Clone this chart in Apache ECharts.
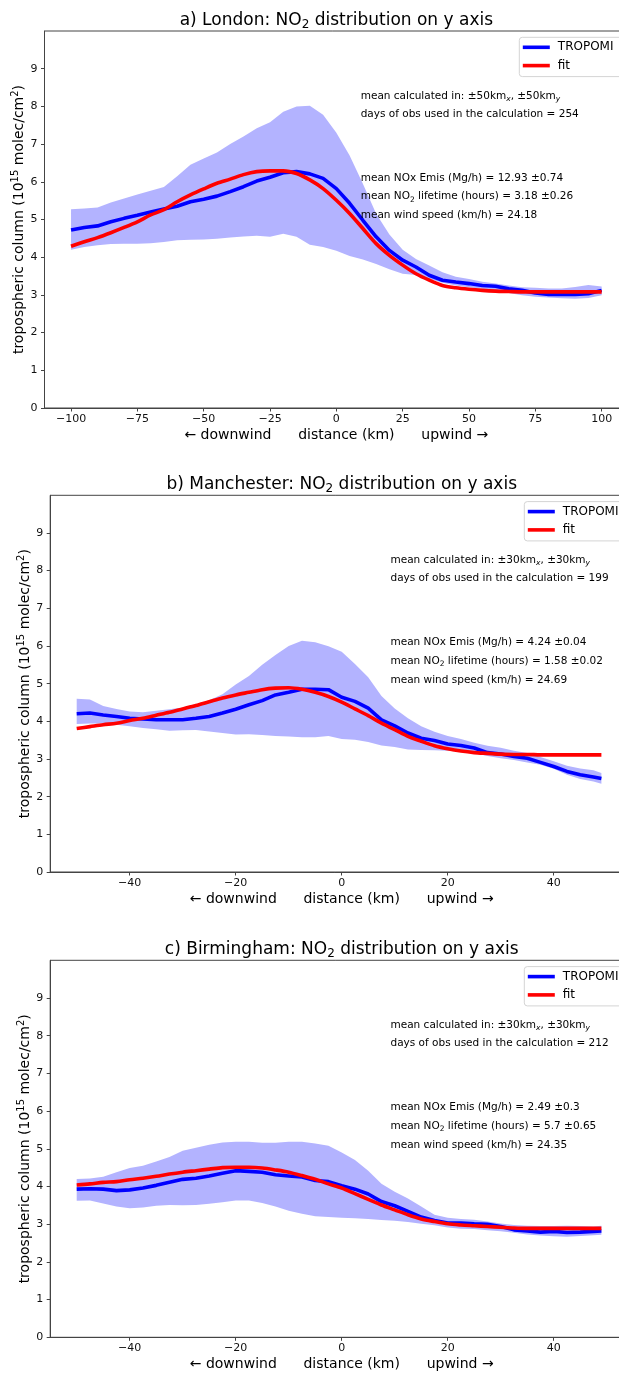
<!DOCTYPE html>
<html>
<head>
<meta charset="utf-8">
<script src="https://cdn.jsdelivr.net/npm/echarts@6/dist/echarts.min.js"></script>
<style>
  html, body { margin: 0; padding: 0; background: #fff; }
  #chart { width: 619px; height: 1373px; }
</style>
</head>
<body>
<div id="chart"></div>
<script>
// a) London, x every 5 km
var xA = [-100, -95, -90, -85, -80, -75, -70, -65, -60, -55, -50, -45, -40, -35, -30, -25, -20, -15, -10, -5,
  0, 5, 10, 15, 20, 25, 30, 35, 40, 45, 50, 55, 60, 65, 70, 75, 80, 85, 90, 95, 100];
var troA = [4.72, 4.79, 4.83, 4.94, 5.03, 5.11, 5.20, 5.28, 5.35, 5.47, 5.54, 5.62, 5.74, 5.87, 6.02, 6.12, 6.24, 6.27, 6.21, 6.09,
  5.82, 5.43, 4.98, 4.54, 4.18, 3.92, 3.74, 3.52, 3.39, 3.34, 3.30, 3.25, 3.23, 3.16, 3.12, 3.05, 3.01, 3.01, 3.01, 3.03, 3.12];
var fitA = [4.29, 4.41, 4.52, 4.65, 4.79, 4.94, 5.12, 5.26, 5.47, 5.65, 5.81, 5.96, 6.07, 6.19, 6.27, 6.29, 6.29, 6.22, 6.05, 5.82,
  5.51, 5.16, 4.76, 4.36, 4.05, 3.79, 3.56, 3.39, 3.25, 3.19, 3.15, 3.12, 3.10, 3.09, 3.08, 3.08, 3.08, 3.08, 3.08, 3.08, 3.08];
var lowA = [4.20, 4.27, 4.32, 4.35, 4.36, 4.36, 4.37, 4.40, 4.45, 4.46, 4.47, 4.49, 4.52, 4.55, 4.57, 4.54, 4.62, 4.54, 4.33, 4.27,
  4.17, 4.03, 3.94, 3.82, 3.68, 3.56, 3.53, 3.42, 3.32, 3.25, 3.20, 3.16, 3.11, 3.05, 2.99, 2.95, 2.93, 2.91, 2.90, 2.92, 2.99];
var highA = [5.27, 5.29, 5.32, 5.45, 5.56, 5.66, 5.76, 5.86, 6.15, 6.45, 6.62, 6.78, 7.00, 7.20, 7.42, 7.58, 7.86, 8.00, 8.02, 7.78,
  7.30, 6.70, 5.95, 5.15, 4.60, 4.20, 3.95, 3.78, 3.60, 3.48, 3.42, 3.35, 3.30, 3.25, 3.20, 3.19, 3.17, 3.17, 3.21, 3.26, 3.22];
var ticksA = [-100, -75, -50, -25, 0, 25, 50, 75, 100];

// b) Manchester and c) Birmingham, x every 2.5 km
var xB = [-50, -47.5, -45, -42.5, -40, -37.5, -35, -32.5, -30, -27.5, -25, -22.5, -20, -17.5, -15, -12.5, -10, -7.5, -5, -2.5,
  0, 2.5, 5, 7.5, 10, 12.5, 15, 17.5, 20, 22.5, 25, 27.5, 30, 32.5, 35, 37.5, 40, 42.5, 45, 47.5, 49];
var troB = [4.20, 4.22, 4.17, 4.13, 4.08, 4.06, 4.04, 4.04, 4.04, 4.08, 4.13, 4.22, 4.32, 4.44, 4.55, 4.70, 4.77, 4.85, 4.85, 4.84,
  4.64, 4.53, 4.35, 4.04, 3.88, 3.69, 3.55, 3.49, 3.40, 3.36, 3.29, 3.17, 3.13, 3.07, 3.02, 2.91, 2.80, 2.67, 2.58, 2.52, 2.48];
var fitB = [3.81, 3.86, 3.91, 3.95, 4.02, 4.08, 4.16, 4.24, 4.33, 4.42, 4.52, 4.62, 4.70, 4.77, 4.84, 4.88, 4.89, 4.85, 4.77, 4.66,
  4.51, 4.33, 4.15, 3.95, 3.78, 3.60, 3.47, 3.35, 3.27, 3.21, 3.17, 3.15, 3.13, 3.12, 3.12, 3.11, 3.11, 3.11, 3.11, 3.11, 3.11];
var lowB = [3.93, 3.94, 3.94, 3.91, 3.87, 3.82, 3.79, 3.75, 3.76, 3.77, 3.73, 3.69, 3.65, 3.66, 3.64, 3.61, 3.60, 3.58, 3.58, 3.61,
  3.53, 3.51, 3.45, 3.36, 3.32, 3.25, 3.24, 3.23, 3.22, 3.19, 3.15, 3.08, 3.02, 2.97, 2.91, 2.85, 2.74, 2.58, 2.47, 2.40, 2.34];
var highB = [4.60, 4.58, 4.41, 4.33, 4.26, 4.24, 4.28, 4.32, 4.37, 4.46, 4.56, 4.72, 4.98, 5.20, 5.50, 5.76, 6.00, 6.14, 6.10, 5.99,
  5.85, 5.52, 5.17, 4.67, 4.34, 4.08, 3.87, 3.72, 3.61, 3.53, 3.43, 3.35, 3.30, 3.22, 3.16, 3.05, 2.94, 2.82, 2.75, 2.70, 2.63];

var troC = [3.93, 3.94, 3.93, 3.89, 3.91, 3.96, 4.03, 4.11, 4.19, 4.22, 4.28, 4.35, 4.42, 4.40, 4.38, 4.31, 4.28, 4.25, 4.16, 4.13,
  4.02, 3.93, 3.80, 3.60, 3.49, 3.34, 3.19, 3.10, 3.03, 3.03, 3.01, 3.00, 2.94, 2.85, 2.82, 2.79, 2.81, 2.78, 2.79, 2.81, 2.82];
var fitC = [4.04, 4.07, 4.11, 4.13, 4.18, 4.22, 4.27, 4.33, 4.38, 4.42, 4.46, 4.50, 4.51, 4.51, 4.49, 4.44, 4.38, 4.29, 4.19, 4.07,
  3.96, 3.81, 3.66, 3.51, 3.38, 3.25, 3.14, 3.07, 3.01, 2.98, 2.96, 2.94, 2.92, 2.90, 2.89, 2.89, 2.89, 2.89, 2.89, 2.89, 2.89];
var lowC = [3.62, 3.63, 3.55, 3.47, 3.42, 3.44, 3.49, 3.51, 3.50, 3.51, 3.54, 3.58, 3.63, 3.63, 3.56, 3.47, 3.36, 3.28, 3.21, 3.19,
  3.17, 3.16, 3.14, 3.11, 3.09, 3.06, 3.01, 2.97, 2.91, 2.88, 2.87, 2.84, 2.81, 2.77, 2.73, 2.70, 2.68, 2.67, 2.69, 2.71, 2.72];
var highC = [4.20, 4.21, 4.26, 4.38, 4.49, 4.55, 4.66, 4.78, 4.95, 5.03, 5.11, 5.17, 5.19, 5.19, 5.16, 5.16, 5.19, 5.19, 5.14, 5.08,
  4.90, 4.70, 4.42, 4.07, 3.86, 3.68, 3.47, 3.25, 3.17, 3.14, 3.12, 3.07, 3.02, 2.98, 2.96, 2.95, 2.95, 2.96, 2.95, 2.94, 2.96];
var ticksBC = [-40, -20, 0, 20, 40];

var yTicks = [0, 1, 2, 3, 4, 5, 6, 7, 8, 9];

var titles = ['a) London: NO', 'b) Manchester: NO', 'c) Birmingham: NO'];
var radius = ['50', '30', '30'];
var days = ['254', '199', '212'];
var emis = ['12.93 ±0.74', '4.24 ±0.04', '2.49 ±0.3'];
var life = ['3.18 ±0.26', '1.58 ±0.02', '5.7 ±0.65'];
var wind = ['24.18', '24.69', '24.35'];

var FONT = 'DejaVu Sans';
var BLUE = '#0000ff', RED = '#ff0000', BAND = '#b3b3ff', SPINE = '#444';

var panels = [
  { x: xA, tro: troA, fit: fitA, lo: lowA, hi: highA, ticks: ticksA, xmin: -110, xmax: 110,
    left: 44.5, top: 31, width: 583.7, height: 377, legendLeft: 519.3, noteX: 360.7 },
  { x: xB, tro: troB, fit: fitB, lo: lowB, hi: highB, ticks: ticksBC, xmin: -55, xmax: 55,
    left: 50.2, top: 495.3, width: 583, height: 376.7, legendLeft: 524.3, noteX: 390.5 },
  { x: xB, tro: troC, fit: fitC, lo: lowC, hi: highC, ticks: ticksBC, xmin: -55, xmax: 55,
    left: 50.2, top: 960.3, width: 583, height: 377, legendLeft: 524.3, noteX: 390.5 }
];

function pairs(xs, ys) {
  return xs.map(function (v, i) { return [v, ys[i]]; });
}

function minus(v) {
  return v < 0 ? '\u2212' + Math.abs(v) : String(v);
}

// band between lo and hi, as one polygon through the axis scales
function bandRenderer(p) {
  return function (params, api) {
    var pts = [];
    for (var i = 0; i < p.x.length; i++) pts.push(api.coord([p.x[i], p.hi[i]]));
    for (var j = p.x.length - 1; j >= 0; j--) pts.push(api.coord([p.x[j], p.lo[j]]));
    return { type: 'polygon', shape: { points: pts }, style: { fill: BAND }, silent: true };
  };
}

var grids = [], xAxes = [], yAxes = [], series = [], legends = [], graphics = [];

var noteRich = {
  t: { fontFamily: FONT, fontSize: 10.5, lineHeight: 14, verticalAlign: 'middle', color: '#000' },
  s: { fontFamily: FONT, fontSize: 7.5, lineHeight: 9, verticalAlign: 'bottom', color: '#000' },
  si: { fontFamily: FONT, fontSize: 7.5, lineHeight: 9, verticalAlign: 'bottom', fontStyle: 'italic', color: '#000' }
};

panels.forEach(function (p, k) {
  grids.push({
    left: p.left, top: p.top, width: p.width, height: p.height,
    show: true, borderColor: SPINE, borderWidth: 1, backgroundColor: 'transparent',
    containLabel: false, outerBoundsMode: 'none'
  });
  xAxes.push({
    type: 'value', gridIndex: k, min: p.xmin, max: p.xmax,
    name: '\u2190 downwind      distance (km)      upwind \u2192',
    nameLocation: 'middle', nameGap: 20, nameMoveOverlap: false,
    nameTextStyle: { fontFamily: FONT, fontSize: 14, color: '#000' },
    axisLine: { show: true, onZero: false, lineStyle: { color: SPINE, width: 1 } },
    axisTick: { show: true, length: 3.5, customValues: p.ticks, lineStyle: { color: SPINE } },
    axisLabel: { fontFamily: FONT, fontSize: 11, color: '#111', margin: 5.5, customValues: p.ticks, formatter: minus },
    splitLine: { show: false }
  });
  yAxes.push({
    type: 'value', gridIndex: k, min: 0, max: 10,
    name: '{n|tropospheric column (10}{p|15}{n| molec/cm}{p|2}{n|)}',
    nameLocation: 'middle', nameRotate: 90, nameGap: 16, nameMoveOverlap: false,
    nameTextStyle: {
      rich: {
        n: { fontFamily: FONT, fontSize: 14, lineHeight: 18, verticalAlign: 'middle', color: '#000' },
        p: { fontFamily: FONT, fontSize: 10, lineHeight: 10, verticalAlign: 'top', color: '#000' }
      }
    },
    axisLine: { show: true, onZero: false, lineStyle: { color: SPINE, width: 1 } },
    axisTick: { show: true, length: 3.5, customValues: yTicks, lineStyle: { color: SPINE } },
    axisLabel: { fontFamily: FONT, fontSize: 11, color: '#111', margin: 7, customValues: yTicks },
    splitLine: { show: false }
  });

  series.push({
    name: 'band_' + k, type: 'custom', xAxisIndex: k, yAxisIndex: k,
    data: [[p.x[0], p.lo[0]]], renderItem: bandRenderer(p), silent: true, z: 1
  });
  series.push({
    name: 'TROPOMI', type: 'line', xAxisIndex: k, yAxisIndex: k,
    data: pairs(p.x, p.tro), symbol: 'none', color: BLUE,
    lineStyle: { color: BLUE, width: 3.6 }, z: 3
  });
  series.push({
    name: 'fit', type: 'line', xAxisIndex: k, yAxisIndex: k,
    data: pairs(p.x, p.fit), symbol: 'none', smooth: 0.3, color: RED,
    lineStyle: { color: RED, width: 3.6 }, z: 4
  });

  legends.push({
    data: ['TROPOMI', 'fit'], orient: 'vertical',
    left: p.legendLeft, top: p.top + 6.3,
    padding: [4, 40, 5, 3.5], itemGap: 6.3,
    icon: 'rect', itemWidth: 27, itemHeight: 3.6,
    backgroundColor: '#fff', borderColor: '#d4d4d4', borderWidth: 1, borderRadius: 3,
    selectedMode: false,
    textStyle: { fontFamily: FONT, fontSize: 12, color: '#000', padding: [0, 0, 0, 3] }
  });

  // title
  graphics.push({
    type: 'text', x: p.left + p.width / 2, y: p.top - 10.3,
    style: {
      text: '{n|' + titles[k] + '}{s|2}{n| distribution on y axis}',
      align: 'center', textAlign: 'center', verticalAlign: 'middle', textVerticalAlign: 'middle',
      rich: {
        n: { fontFamily: FONT, fontSize: 17, lineHeight: 20, verticalAlign: 'middle', color: '#000' },
        s: { fontFamily: FONT, fontSize: 12, lineHeight: 12, verticalAlign: 'bottom', color: '#000' }
      }
    }
  });

  // notes
  var notes = [
    '{t|mean calculated in: \u00b1' + radius[k] + 'km}{si|x}{t|, \u00b1' + radius[k] + 'km}{si|y}',
    '{t|days of obs used in the calculation = ' + days[k] + '}',
    '{t|mean NOx Emis (Mg/h) = ' + emis[k] + '}',
    '{t|mean NO}{s|2}{t| lifetime (hours) = ' + life[k] + '}',
    '{t|mean wind speed (km/h) = ' + wind[k] + '}'
  ];
  var offs = [65, 83.3, 147.3, 165.7, 184.7];
  notes.forEach(function (txt, i) {
    graphics.push({
      type: 'text', x: p.noteX, y: p.top + offs[i], z: 10,
      style: {
        text: txt, rich: noteRich,
        align: 'left', textAlign: 'left', verticalAlign: 'middle', textVerticalAlign: 'middle'
      }
    });
  });
});

var myChart = echarts.init(document.getElementById('chart'), null, { renderer: 'canvas' });
myChart.setOption({
  animation: false,
  backgroundColor: '#fff',
  textStyle: { fontFamily: FONT },
  grid: grids,
  xAxis: xAxes,
  yAxis: yAxes,
  legend: legends,
  graphic: { elements: graphics },
  series: series
});
</script>
</body>
</html>
